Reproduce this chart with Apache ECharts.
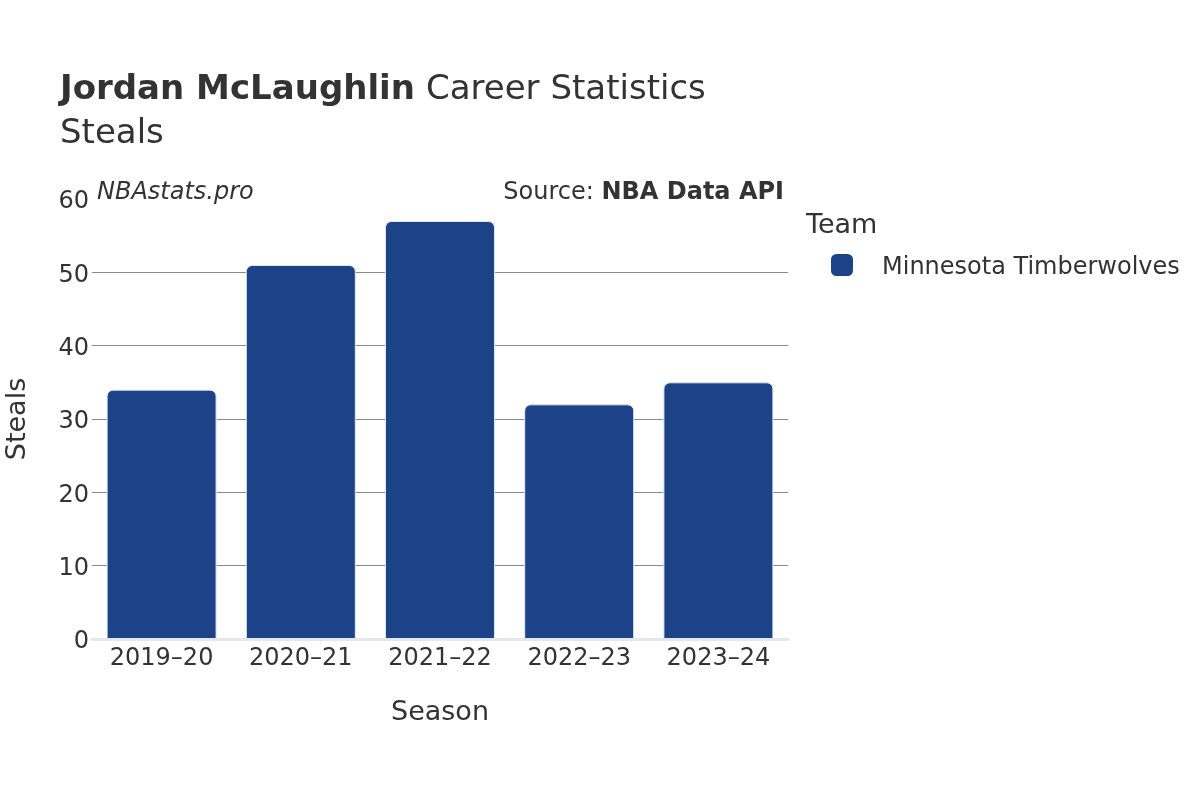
<!DOCTYPE html>
<html><head><meta charset="utf-8">
<script src="https://cdn.jsdelivr.net/npm/echarts@6/dist/echarts.min.js"></script>
<style>html,body{margin:0;padding:0;background:#fff}#c{width:1200px;height:800px}</style>
</head><body><div id="c"></div>
<script>
const seasons = ['2019–20','2020–21','2021–22','2022–23','2023–24'];
const steals = [34, 51, 57, 32, 35];
const teamName = 'Minnesota Timberwolves';
const yTicks = [0,10,20,30,40,50,60];

const F = 'DejaVu Sans';
const chart = echarts.init(document.getElementById('c'));
chart.setOption({
  animation:false,
  backgroundColor:'#fff',
  textStyle:{fontFamily:F},
  title:{
    left:60, top:68, padding:0,
    text:'{b|Jordan McLaughlin}{m|Career Statistics}\n{n|Steals}',
    textStyle:{fontWeight:'normal',rich:{
      b:{fontFamily:F,fontWeight:'bold',fontSize:34,color:'#333',lineHeight:44},
      m:{fontFamily:F,fontWeight:'normal',fontSize:34,color:'#333',lineHeight:44,padding:[0,0,0,11]},
      n:{fontFamily:F,fontWeight:'normal',fontSize:34,color:'#333',lineHeight:44}
    }}
  },
  legend:{
    left:831, top:254, orient:'vertical', padding:0,
    icon:'roundRect', itemWidth:22, itemHeight:22, itemGap:10,
    itemStyle:{borderWidth:0},
    formatter:name=>'{t|'+name+'}',
    textStyle:{fontFamily:F,fontSize:24,color:'#333',
      rich:{t:{fontFamily:F,fontSize:24,color:'#333',padding:[6,0,0,24]}}},
    data:[teamName]
  },
  graphic:[
    {type:'text',left:806,top:212,style:{text:'Team',font:'27px "DejaVu Sans"',fill:'#333'}},
    {type:'text',left:97,top:181,style:{text:'NBAstats.pro',font:'italic 24px "DejaVu Sans"',fill:'#333'}},
    {type:'text',right:416,top:181,style:{text:'{n|Source: }{b|NBA Data API}',rich:{
      n:{font:'24px "DejaVu Sans"',fill:'#333'},
      b:{font:'bold 24px "DejaVu Sans"',fill:'#333'}
    }}}
  ],
  grid:{left:92,right:412,top:199,bottom:161,containLabel:false,outerBoundsMode:'none'},
  xAxis:{
    type:'category', data:seasons,
    name:'Season', nameLocation:'middle', nameGap:60,
    nameTextStyle:{fontFamily:F,fontSize:27,color:'#333'},
    axisLine:{show:true,lineStyle:{color:'#e6e6ec',width:3}},
    axisTick:{show:false},
    axisLabel:{fontFamily:F,fontSize:24,color:'#333',margin:8}
  },
  yAxis:{
    type:'value', min:0, max:60, interval:10,
    name:'Steals', nameLocation:'middle', nameGap:61,
    nameTextStyle:{fontFamily:F,fontSize:27,color:'#333'},
    axisLine:{show:false},
    axisTick:{show:false},
    axisLabel:{fontFamily:F,fontSize:24,color:'#333',margin:3,
      formatter:v=>yTicks.includes(v)?'{a|'+v+'}':'',
      rich:{a:{fontFamily:F,fontSize:24,color:'#333',padding:[6,0,0,0]}}},
    splitLine:{showMaxLine:false,lineStyle:{color:'#8a8a8a',width:1}}
  },
  series:[{
    name:teamName, type:'bar', data:steals,
    barCategoryGap:'21%',
    itemStyle:{color:'#1c4287',borderRadius:[6,6,0,0],borderColor:'#dfe6f0',borderWidth:1},
    z:3
  }]
});
</script></body></html>
